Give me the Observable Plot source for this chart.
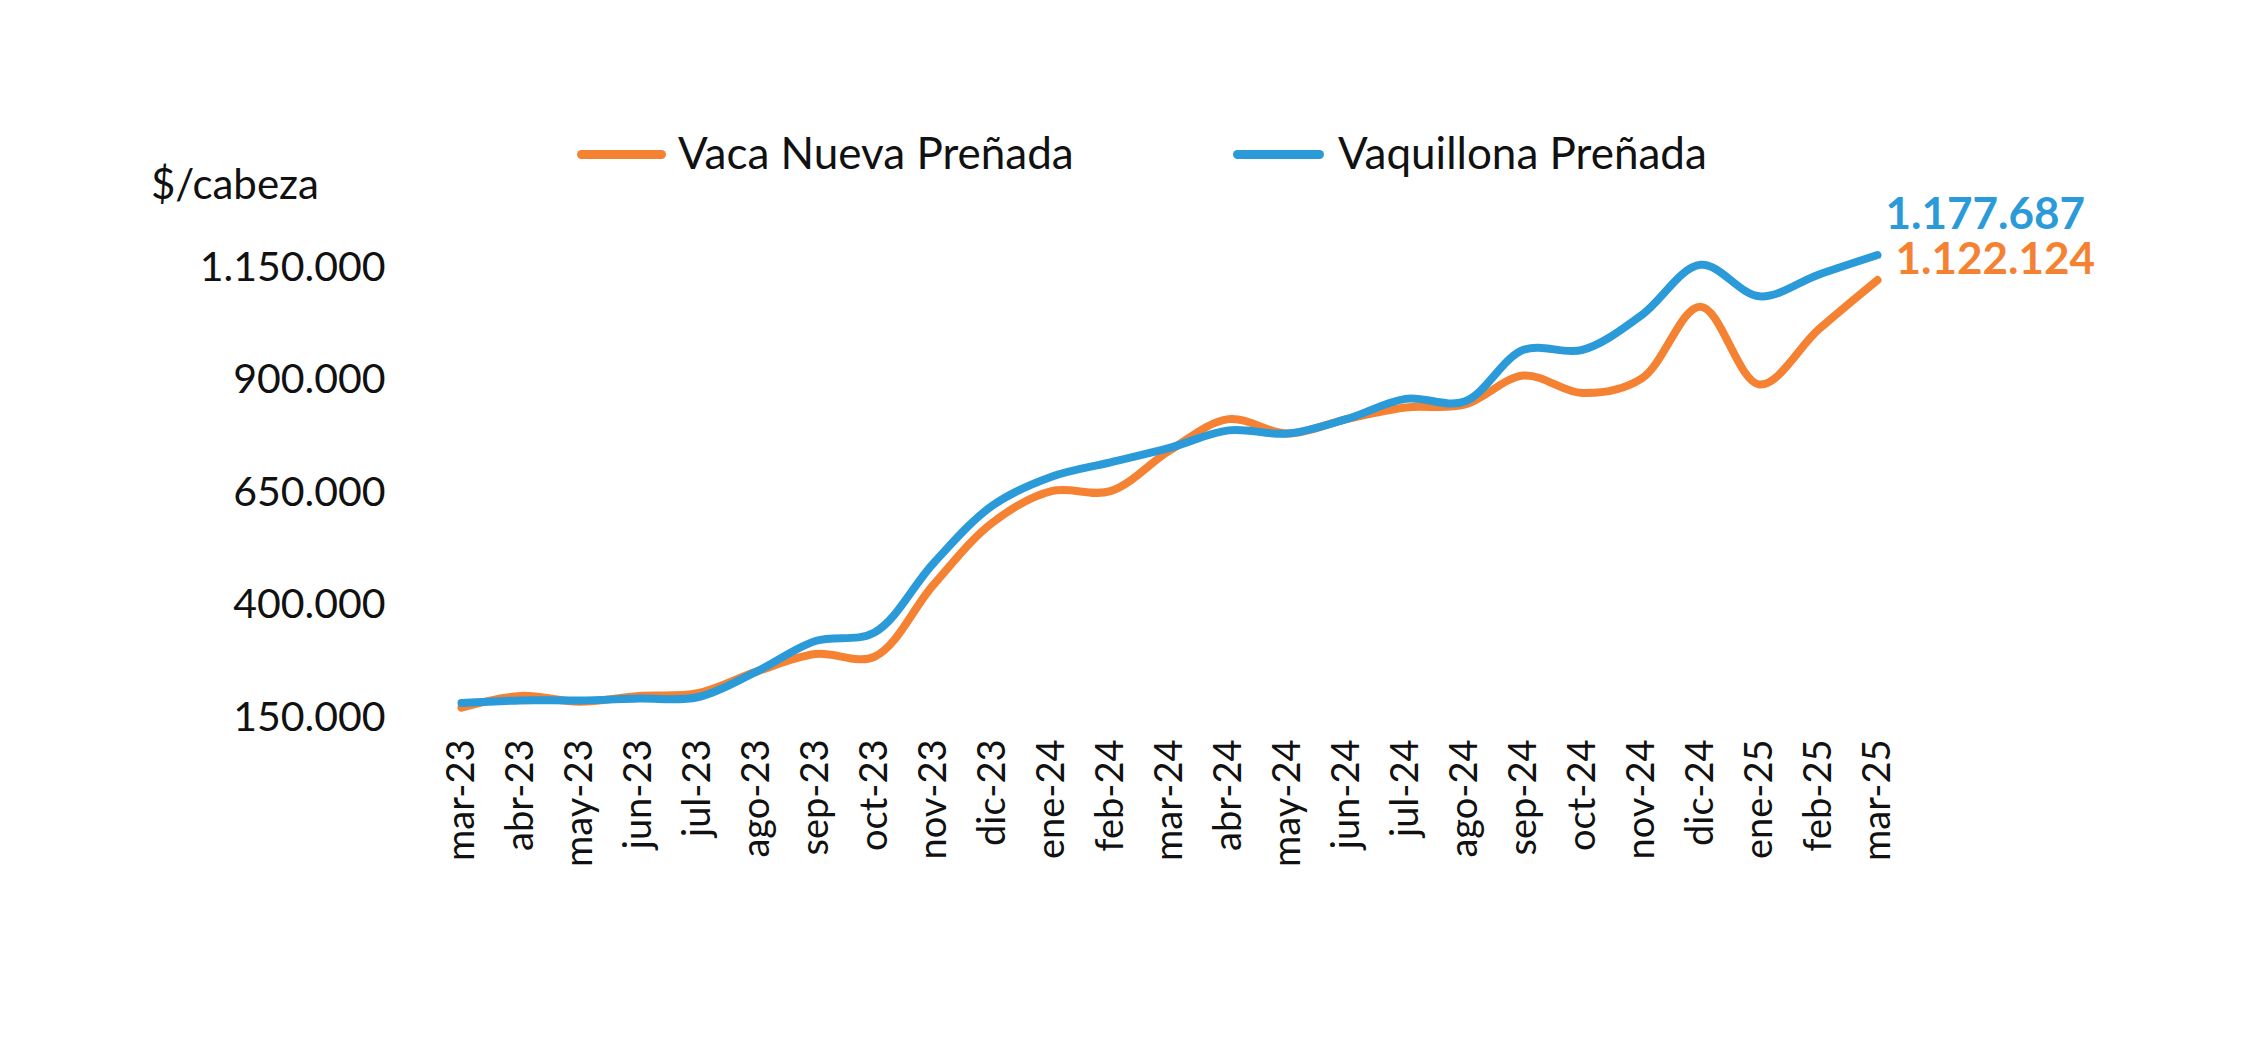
<!DOCTYPE html>
<html><head><meta charset="utf-8">
<script src="https://cdn.jsdelivr.net/npm/d3@7"></script>
<script src="https://cdn.jsdelivr.net/npm/@observablehq/plot@0.6"></script>
<style>
body{margin:0;background:#fff;font-family:Lato,"Noto Sans",sans-serif;}
#wrap{position:relative;width:2250px;height:1057px;}
#chart{position:absolute;left:0;top:0;}
.abs{position:absolute;white-space:nowrap;color:#111;}
.sw{position:absolute;height:9px;border-radius:5px;}
</style></head><body>
<div id="wrap">
<div id="chart"></div>
<div class="sw" style="left:577px;top:150px;width:89px;background:#F58232"></div>
<div class="abs" style="left:678px;top:126px;font-size:44px">Vaca Nueva Preñada</div>
<div class="sw" style="left:1233px;top:150px;width:91px;background:#2A9AD9"></div>
<div class="abs" style="left:1338px;top:126px;font-size:44px">Vaquillona Preñada</div>
<div class="abs" style="left:151px;top:158px;font-size:42px">$/cabeza</div>
</div>
<script>
const months = ["mar-23","abr-23","may-23","jun-23","jul-23","ago-23","sep-23","oct-23","nov-23","dic-23","ene-24","feb-24","mar-24","abr-24","may-24","jun-24","jul-24","ago-24","sep-24","oct-24","nov-24","dic-24","ene-25","feb-25","mar-25"];
const vaca = [172000,198000,185000,198000,204000,252000,291000,285000,445000,583000,653000,653000,743000,813000,781000,813000,839000,845000,910000,871000,903000,1063000,890000,1012000,1122124];
const vaquillona = [182000,188000,188000,192000,195000,252000,320000,339000,493000,621000,685000,717000,749000,788000,781000,813000,858000,852000,967000,967000,1044000,1156000,1086000,1134000,1177687];
const yTicks = [150000,400000,650000,900000,1150000];
const series = [{name:"Vaca Nueva Preñada",vals:vaca,color:"#F58232",dy:2},{name:"Vaquillona Preñada",vals:vaquillona,color:"#2A9AD9",dy:-40}];
const data = series.flatMap(s => s.vals.map((v,i)=>({m:months[i],v,name:s.name,color:s.color})));
const fmt = d => d3.format(",")(d).replace(/,/g,".");
const lastLabels = series.map(s=>({m:months[months.length-1],v:s.vals[s.vals.length-1],color:s.color,dy:s.dy}));
const plot = Plot.plot({
  width:2250,height:1057,marginLeft:433,marginRight:346,marginTop:267,marginBottom:340,
  style:{fontFamily:"Lato, 'Noto Sans', sans-serif",color:"#111",overflow:"visible"},
  x:{type:"point",domain:months,padding:0.3,label:null},
  y:{domain:[150000,1150000],ticks:yTicks,label:null,tickFormat:fmt},
  marks:[
    Plot.axisY({ticks:yTicks,tickFormat:fmt,tickSize:0,tickPadding:48,fontSize:41,label:null}),
    Plot.axisX({tickSize:0,tickRotate:-90,fontSize:38,tickPadding:22,label:null}),
    Plot.ruleY([150000],{stroke:"#d9d9d9",strokeWidth:3,x1:months[0],x2:months[months.length-1],insetLeft:-22,insetRight:-28}),
    Plot.line(data.filter(d=>d.name===series[0].name),{x:"m",y:"v",stroke:series[0].color,strokeWidth:8,curve:"catmull-rom"}),
    Plot.line(data.filter(d=>d.name===series[1].name),{x:"m",y:"v",stroke:series[1].color,strokeWidth:8,curve:"catmull-rom"}),
    Plot.text(lastLabels.slice(0,1),{x:"m",y:"v",text:d=>fmt(d.v),fill:d=>d.color,fontSize:44,fontWeight:"bold",textAnchor:"start",dx:18,dy:-20}),
    Plot.text(lastLabels.slice(1),{x:"m",y:"v",text:d=>fmt(d.v),fill:d=>d.color,fontSize:44,fontWeight:"bold",textAnchor:"start",dx:8,dy:-40})
  ]
});
document.getElementById("chart").appendChild(plot);
</script></body></html>
